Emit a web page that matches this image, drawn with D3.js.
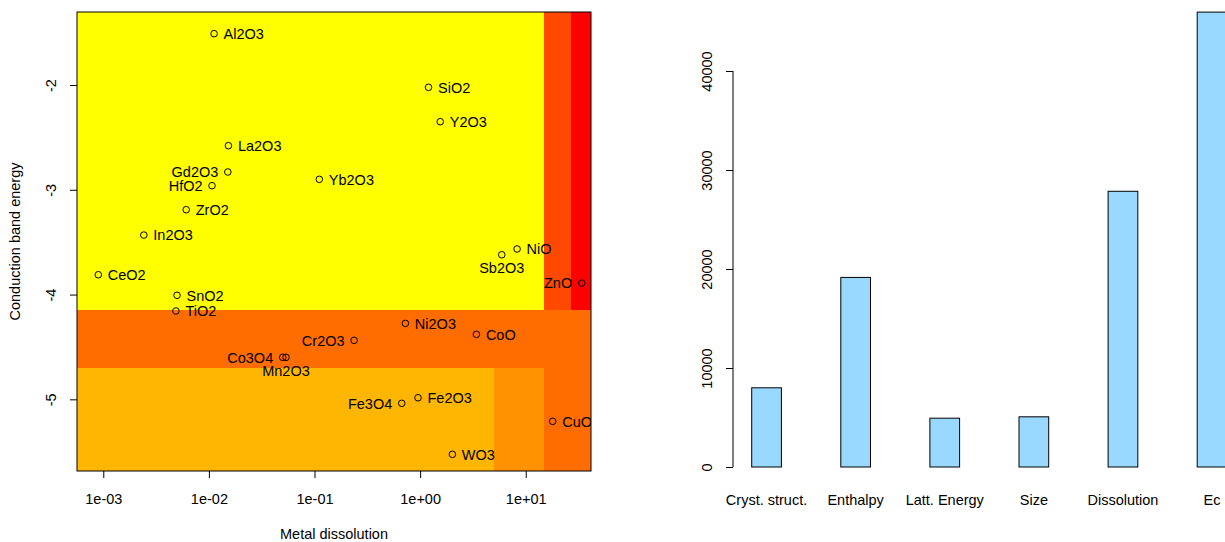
<!DOCTYPE html>
<html>
<head>
<meta charset="utf-8">
<script src="https://cdn.jsdelivr.net/npm/d3@7"></script>
<style>
  html, body { margin: 0; padding: 0; background: #fff; }
  svg { display: block; }
  text { font-family: "Liberation Sans", Arial, Helvetica, sans-serif; font-size: 14.5px; fill: #000; }
</style>
</head>
<body>
<svg id="chart" width="1225" height="542"></svg>
<script>
// ---------- Left panel data ----------
const oxides = ["Al2O3","SiO2","Y2O3","La2O3","Gd2O3","HfO2","ZrO2","In2O3","Yb2O3","NiO","Sb2O3","ZnO",
                "CeO2","SnO2","TiO2","Co3O4","Mn2O3","Cr2O3","Ni2O3","CoO","Fe3O4","Fe2O3","CuO","WO3"];
const dissolution = [0.0112, 1.20, 1.55, 0.0153, 0.0151, 0.0107, 0.0061, 0.00242, 0.111, 8.28, 5.93, 33.9,
                     0.000897, 0.00499, 0.00487, 0.0500, 0.0537, 0.237, 0.725, 3.41, 0.670, 0.955, 18.0, 2.02];
const condBand = [-1.51, -2.022, -2.350, -2.579, -2.830, -2.961, -3.190, -3.432, -2.900, -3.565, -3.620, -3.890,
                  -3.811, -4.007, -4.157, -4.599, -4.599, -4.437, -4.275, -4.380, -5.038, -4.985, -5.210, -5.525];
const labelPos = ["right","right","right","right","left","left","right","right","right","right","below","left",
                  "right","right","right","left","below","left","right","right","left","right","right","right"];

const xTickValues = [1e-3, 1e-2, 1e-1, 1, 10];
const xTickLabels = ["1e-03", "1e-02", "1e-01", "1e+00", "1e+01"];
const yTickValues = [-2, -3, -4, -5];
const yTickLabels = ["-2", "-3", "-4", "-5"];

// background zones (data units): x range, y range
const zoneX0 = [null, 15, 27, null, null, 5, 15];
const zoneX1 = [15, 27, null, null, 5, 15, null];
const zoneY0 = [-4.15, -4.15, -4.15, -4.7, null, null, null];
const zoneY1 = [null, null, null, -4.15, -4.7, -4.7, -4.7];
const zoneColors = ["#FFFF00", "#FF4900", "#FF0000", "#FF6D00", "#FFB600", "#FF9200", "#FF6D00"];

// ---------- Right panel data ----------
const factors = ["Cryst. struct.", "Enthalpy", "Latt. Energy", "Size", "Dissolution", "Ec"];
const importance = [8000, 19150, 4930, 5070, 27850, 45950];
const barTicks = [0, 10000, 20000, 30000, 40000];
const barTickLabels = ["0", "10000", "20000", "30000", "40000"];

const svg = d3.select("#chart");

// ================= LEFT PANEL =================
const L = {left: 77, right: 591, top: 12, bottom: 471};
const x = d3.scaleLog().domain([Math.pow(10, -3.249), Math.pow(10, 1.618)]).range([L.left, L.right]);
const y = d3.scaleLinear().domain([-5.684, -1.303]).range([L.bottom, L.top]);
const [xMin, xMax] = x.domain();
const [yMin, yMax] = y.domain();

svg.append("defs").append("clipPath").attr("id", "clipL")
  .append("rect").attr("x", L.left).attr("y", L.top)
  .attr("width", L.right - L.left).attr("height", L.bottom - L.top);

const gL = svg.append("g");
const zones = zoneColors.map((c, i) => ({
  x0: zoneX0[i] ?? xMin, x1: zoneX1[i] ?? xMax,
  y0: zoneY0[i] ?? yMin, y1: zoneY1[i] ?? yMax, c
}));
gL.append("g").attr("clip-path", "url(#clipL)").selectAll("rect").data(zones).join("rect")
  .attr("x", d => x(d.x0)).attr("width", d => x(d.x1) - x(d.x0))
  .attr("y", d => y(d.y1)).attr("height", d => y(d.y0) - y(d.y1))
  .attr("fill", d => d.c).attr("shape-rendering", "crispEdges");

const pts = oxides.map((n, i) => ({n, x: dissolution[i], y: condBand[i], p: labelPos[i]}));
const gP = gL.append("g").attr("clip-path", "url(#clipL)");
gP.selectAll("circle").data(pts).join("circle")
  .attr("cx", d => x(d.x)).attr("cy", d => y(d.y)).attr("r", 3.3)
  .attr("fill", "none").attr("stroke", "#000").attr("stroke-width", 1);
gP.selectAll("text").data(pts).join("text")
  .attr("x", d => d.p === "right" ? x(d.x) + 9.5 : d.p === "left" ? x(d.x) - 9.5 : x(d.x))
  .attr("y", d => d.p === "below" ? y(d.y) + 13.5 : y(d.y))
  .attr("dy", "0.36em")
  .attr("text-anchor", d => d.p === "right" ? "start" : d.p === "left" ? "end" : "middle")
  .text(d => d.n);

// box
gL.append("rect").attr("x", L.left).attr("y", L.top)
  .attr("width", L.right - L.left).attr("height", L.bottom - L.top)
  .attr("fill", "none").attr("stroke", "#000").attr("stroke-width", 1);

// x axis
const xAxis = gL.append("g").attr("transform", `translate(0,${L.bottom})`)
  .call(d3.axisBottom(x).tickValues(xTickValues).tickSize(7).tickPadding(0)
        .tickFormat((d, i) => xTickLabels[i]));
xAxis.select(".domain").remove();
xAxis.selectAll("line").attr("stroke", "#000");
xAxis.selectAll("text").attr("y", 28).attr("dy", "0.36em")
  .style("font-size", "14.5px").style("font-family", "Liberation Sans, Arial, sans-serif");

// y axis
const yAxis = gL.append("g").attr("transform", `translate(${L.left},0)`)
  .call(d3.axisLeft(y).tickValues(yTickValues).tickSize(7)
        .tickFormat((d, i) => yTickLabels[i]));
yAxis.select(".domain").remove();
yAxis.selectAll("line").attr("stroke", "#000");
yAxis.selectAll("text")
  .attr("x", null).attr("dy", null)
  .attr("text-anchor", "middle")
  .attr("transform", "translate(-26,0) rotate(-90)")
  .attr("dy", "0.36em")
  .style("font-size", "14.5px").style("font-family", "Liberation Sans, Arial, sans-serif");

gL.append("text").attr("x", (L.left + L.right) / 2).attr("y", 534).attr("dy", "0.36em")
  .attr("text-anchor", "middle").text("Metal dissolution");
gL.append("text").attr("transform", `translate(15,${(L.top + L.bottom) / 2}) rotate(-90)`)
  .attr("dy", "0.36em").attr("text-anchor", "middle").text("Conduction band energy");

// ================= RIGHT PANEL =================
const unit = 29.7;
const x0R = 751.7 - 2 * unit;
const space = 2;
const xb = d3.scaleLinear().domain([0, factors.length * (1 + space)]).range([x0R, x0R + factors.length * (1 + space) * unit]);
const yb = d3.scaleLinear().domain([0, 40000]).range([467, 71]);

const gR = svg.append("g");
const bars = factors.map((f, i) => ({f, v: importance[i], s: space + i * (1 + space)}));
gR.selectAll("rect").data(bars).join("rect")
  .attr("x", d => xb(d.s)).attr("width", d => xb(d.s + 1) - xb(d.s))
  .attr("y", d => yb(d.v)).attr("height", d => yb(0) - yb(d.v))
  .attr("fill", "#99D9FF").attr("stroke", "#000").attr("stroke-width", 1);
gR.selectAll("text.cat").data(bars).join("text").attr("class", "cat")
  .attr("x", d => xb(d.s + 0.5)).attr("y", 500).attr("dy", "0.36em")
  .attr("text-anchor", "middle").text(d => d.f);

const ybAxis = gR.append("g").attr("transform", "translate(733,0)")
  .call(d3.axisLeft(yb).tickValues(barTicks).tickSize(7).tickSizeOuter(0)
        .tickFormat((d, i) => barTickLabels[i]));
ybAxis.select(".domain").attr("stroke", "#000").attr("d", `M0,${yb(0)}V${yb(40000)}`);
ybAxis.selectAll("line").attr("stroke", "#000");
ybAxis.selectAll("text")
  .attr("x", null).attr("dy", null)
  .attr("text-anchor", "middle")
  .attr("transform", "translate(-26,0) rotate(-90)")
  .attr("dy", "0.36em")
  .style("font-size", "14.5px").style("font-family", "Liberation Sans, Arial, sans-serif");
</script>
</body>
</html>
